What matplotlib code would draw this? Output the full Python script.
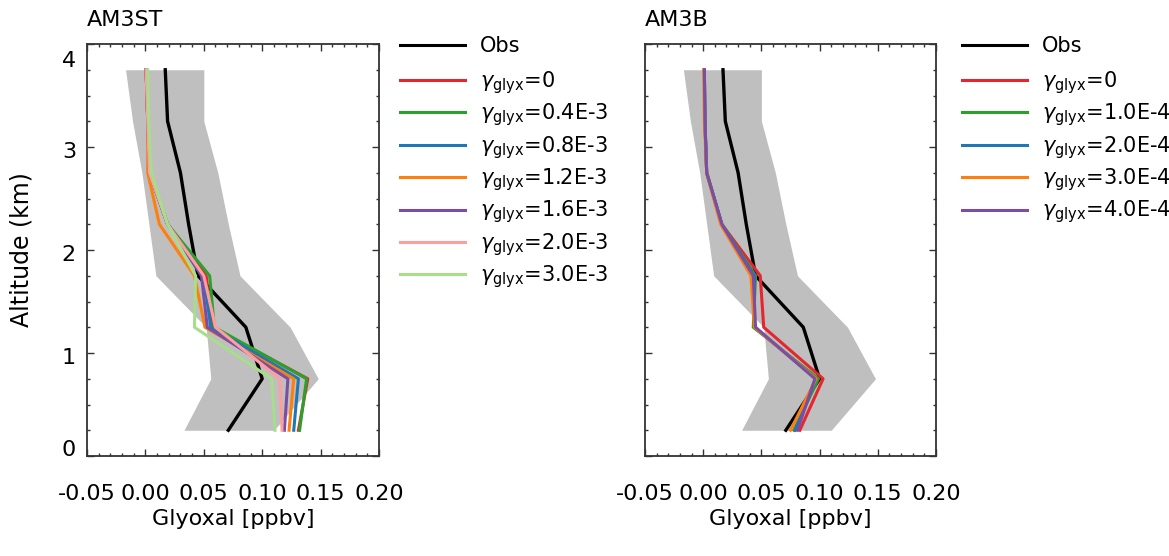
import matplotlib
matplotlib.use("Agg")
import matplotlib.pyplot as plt
from matplotlib.ticker import MultipleLocator, FormatStrFormatter
import matplotlib.transforms as mtransforms

plt.rcParams['font.family'] = ['DejaVu Sans']
plt.rcParams['mathtext.fontset'] = 'dejavusans'
plt.rcParams['axes.unicode_minus'] = False

# ---------------- data ----------------
altitude = [3.75, 3.25, 2.75, 2.25, 1.75, 1.25, 0.75, 0.25]
obs = [0.017, 0.019, 0.030, 0.037, 0.045, 0.086, 0.100, 0.071]
obs_lo = [-0.017, -0.011, -0.003, 0.003, 0.009, 0.052, 0.056, 0.033]
obs_hi = [0.050, 0.050, 0.062, 0.071, 0.081, 0.124, 0.148, 0.110]

am3st_labels = ["0", "0.4E-3", "0.8E-3", "1.2E-3", "1.6E-3", "2.0E-3", "3.0E-3"]
am3st_colors = ["#e6262e", "#2ca02c", "#1f77b4", "#ff7f0e", "#7b4ea3", "#ff9e9e", "#a6de8c"]
am3st_g0 = [0.0006, 0.002, 0.0034, 0.019, 0.052, 0.057, 0.139, 0.131]
am3st_g04 = [0.0006, 0.002, 0.0034, 0.019, 0.055, 0.059, 0.138, 0.132]
am3st_g08 = [0.0006, 0.002, 0.0034, 0.019, 0.050, 0.056, 0.131, 0.127]
am3st_g12 = [0.0006, 0.002, 0.0020, 0.012, 0.042, 0.051, 0.127, 0.123]
am3st_g16 = [0.0006, 0.002, 0.0034, 0.019, 0.048, 0.053, 0.122, 0.119]
am3st_g20 = [0.0006, 0.002, 0.0034, 0.019, 0.050, 0.060, 0.115, 0.117]
am3st_g30 = [0.0020, 0.003, 0.0050, 0.019, 0.043, 0.042, 0.108, 0.111]
am3st_series = [am3st_g0, am3st_g04, am3st_g08, am3st_g12, am3st_g16, am3st_g20, am3st_g30]

am3b_labels = ["0", "1.0E-4", "2.0E-4", "3.0E-4", "4.0E-4"]
am3b_colors = ["#e6262e", "#2ca02c", "#1f77b4", "#ff7f0e", "#7b4ea3"]
am3b_g0 = [0.001, 0.0015, 0.003, 0.016, 0.049, 0.052, 0.103, 0.083]
am3b_g1 = [0.001, 0.0015, 0.003, 0.016, 0.045, 0.043, 0.099, 0.078]
am3b_g2 = [0.001, 0.0015, 0.003, 0.016, 0.044, 0.044, 0.097, 0.079]
am3b_g3 = [0.0005, 0.001, 0.003, 0.015, 0.041, 0.044, 0.097, 0.075]
am3b_g4 = [0.001, 0.0015, 0.003, 0.016, 0.043, 0.045, 0.096, 0.081]
am3b_series = [am3b_g0, am3b_g1, am3b_g2, am3b_g3, am3b_g4]

x_ticks = [-0.05, 0.00, 0.05, 0.10, 0.15, 0.20]
y_ticks = [0, 1, 2, 3, 4]

# ---------------- figure ----------------
W, H = 1169, 556
fig = plt.figure(figsize=(W / 100, H / 100), dpi=100)


def px_axes(x0, x1, y0, y1):
    return fig.add_axes([x0 / W, 1 - y1 / H, (x1 - x0) / W, (y1 - y0) / H])


ax1 = px_axes(87, 379, 44, 456)
ax2 = px_axes(645, 936, 44, 456)

panels = [
    (ax1, "AM3ST", am3st_series, am3st_labels, am3st_colors, 400),
    (ax2, "AM3B", am3b_series, am3b_labels, am3b_colors, 962),
]

leg_kw = dict(loc="upper left", frameon=False, fontsize=15, handlelength=3.1,
              handletextpad=0.75, borderpad=0, borderaxespad=0)

for ax, title, series, labels, colors, leg_x in panels:
    ax.fill_betweenx(altitude, obs_lo, obs_hi, color="#bfbfbf", lw=0, zorder=1)
    h_obs, = ax.plot(obs, altitude, color="black", lw=2.4, zorder=2, label="Obs")
    handles = []
    for vals, lab, col in zip(series, labels, colors):
        h, = ax.plot(vals, altitude, color=col, lw=2.2, zorder=3,
                     label=r"$\gamma_{\rm glyx}$=" + lab)
        handles.append(h)

    ax.set_xlim(-0.05, 0.20)
    ax.set_ylim(0, 4)
    ax.xaxis.set_major_locator(MultipleLocator(0.05))
    ax.xaxis.set_minor_locator(MultipleLocator(0.01))
    ax.yaxis.set_major_locator(MultipleLocator(1))
    ax.yaxis.set_minor_locator(MultipleLocator(0.25))
    ax.set_xticks(x_ticks)
    ax.xaxis.set_major_formatter(FormatStrFormatter("%.2f"))
    ax.tick_params(which="both", direction="in", top=True, right=True,
                   width=1.0, colors="#333333", labelcolor="black")
    ax.tick_params(which="major", length=5)
    ax.tick_params(which="minor", length=2.5)
    ax.tick_params(axis="x", labelsize=16, pad=20)
    ax.tick_params(axis="y", labelsize=16, pad=8)
    for sp in ax.spines.values():
        sp.set_linewidth(1.3)
        sp.set_color("#333333")

    ax.set_xlabel("Glyoxal [ppbv]", fontsize=16)
    ax.xaxis.set_label_coords(0.5, -0.128)
    ax.xaxis.label.set_va("top")
    ax.text(0.0, 1.035, title, transform=ax.transAxes, fontsize=16,
            ha="left", va="bottom")

    leg_obs = fig.legend(handles=[h_obs], bbox_to_anchor=(leg_x / W, 1 - 36 / H),
                         **leg_kw)
    leg = fig.legend(handles=handles, bbox_to_anchor=(leg_x / W, 1 - 69 / H),
                     labelspacing=0.27, **leg_kw)
    for lg in (leg_obs, leg):
        for line in lg.get_lines():
            line.set_linewidth(2.2)

ax1.set_yticks(y_ticks)
ax1.set_yticklabels([str(v) for v in y_ticks])
ax2.set_yticks(y_ticks)
ax2.set_yticklabels([])

# nudge y tick labels like the original
shifts = {0: 8, 1: -3, 2: -3, 3: -3, 4: -15}
for lab, v in zip(ax1.get_yticklabels(), y_ticks):
    off = mtransforms.ScaledTranslation(0, shifts[v] / 100, fig.dpi_scale_trans)
    lab.set_transform(lab.get_transform() + off)

fig.text(22 / W, 1 - 250 / H, "Altitude (km)", rotation=90, fontsize=17,
         ha="center", va="center")

fig.savefig("out.png", dpi=100)
